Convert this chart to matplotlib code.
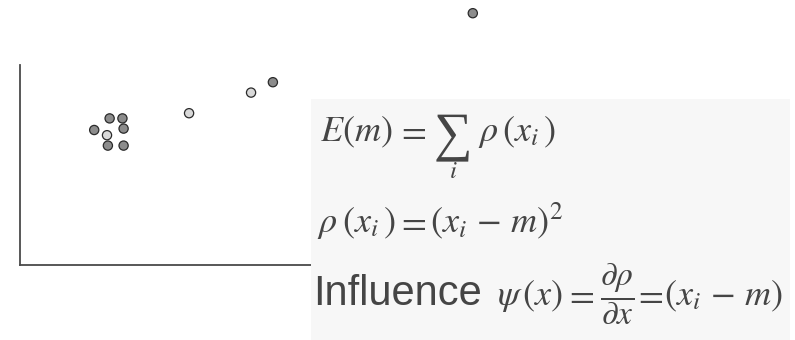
import numpy as np
import matplotlib
matplotlib.use("Agg")
import matplotlib.pyplot as plt
from matplotlib.patches import Rectangle

plt.rcParams['mathtext.fontset'] = 'stix'

# sample points: x, y and whether the marker is a light one
xs = [2.55, 3.08, 3.52, 3.56, 2.99, 3.02, 3.56, 5.81, 7.94, 8.69, 15.56]
ys = [6.75, 7.33, 7.33, 6.82, 6.49, 5.97, 5.97, 7.59, 8.62, 9.14, 12.59]
light = [0, 0, 0, 0, 1, 0, 0, 1, 1, 0, 0]

W, H = 795, 340
fig = plt.figure(figsize=(W/100, H/100), dpi=100)

ax = fig.add_axes([20/W, 75/H, 291/W, 200/H])
ax.set_xlim(0, 10)
ax.set_ylim(0, 10)
for s in ['top', 'right']:
    ax.spines[s].set_visible(False)
for s in ['left', 'bottom']:
    ax.spines[s].set_color('#4a4a4a')
    ax.spines[s].set_linewidth(1.3)
ax.set_xticks([])
ax.set_yticks([])

cols = ['#d9d9d9' if l else '#8c8c8c' for l in light]
ax.scatter(xs, ys, s=44, c=cols, edgecolors='#2a2a2a', linewidths=0.9,
           clip_on=False, zorder=3)

# overlay in pixel units for the formula panel
ov = fig.add_axes([0, 0, 1, 1])
ov.set_xlim(0, W)
ov.set_ylim(H, 0)
ov.axis('off')
ov.patch.set_alpha(0)
ov.add_patch(Rectangle((311, 99), 479, 245, facecolor='#f7f7f7', edgecolor='none'))

tc = '#454545'
fs = 26

def put(x, y, s, size=fs, ha='left', **kw):
    ov.text(x, y, s, fontsize=size, color=tc, ha=ha, va='baseline', **kw)

# E(m) = sum_i rho(x_i)
y1 = 141
put(320, y1, r'$E(m)$')
put(396, y1, r'$=$')
put(453, y1 + 8, '\u2211', size=39, ha='center', family='Liberation Serif')
put(453, y1 + 37, r'$i$', size=18, ha='center')
put(478, y1, r'$\rho\,(x_i\,)$')

# rho(x_i) = (x_i - m)^2
y2 = 232
put(317, y2, r'$\rho$')
put(342, y2, r'$(x_i\,)$')
put(396, y2, r'$=$')
put(430, y2, r'$(x_i\,-\,m)^2$')

# influence function
y3 = 305
put(313, y3, 'Influence', size=30, family='Liberation Sans')
put(497, y3, r'$\psi$')
put(522, y3, r'$(x)$')
put(564, y3, r'$=$')
put(600, y3, r'$\dfrac{\partial\rho}{\partial x}$', size=24)
put(633, y3, r'$=$')
put(664, y3, r'$(x_i\,-\,m)$')

fig.savefig('out.png', dpi=100)
